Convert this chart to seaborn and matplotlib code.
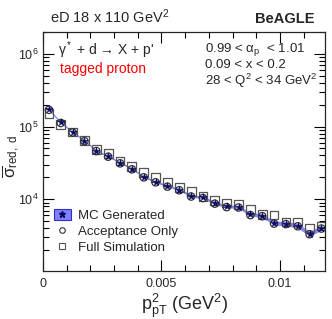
import numpy as np
import pandas as pd
import matplotlib
matplotlib.use("Agg")
import matplotlib.pyplot as plt
import seaborn as sns
from matplotlib.patches import Patch
from matplotlib.lines import Line2D
from matplotlib.ticker import MultipleLocator, FixedLocator, FixedFormatter, LogLocator, NullFormatter

# ---- data ----
pt2 = [0.00025, 0.00075, 0.00125, 0.00175, 0.00225, 0.00275, 0.00325, 0.00375,
       0.00425, 0.00475, 0.00525, 0.00575, 0.00625, 0.00675, 0.00725, 0.00775,
       0.00825, 0.00875, 0.00925, 0.00975, 0.01025, 0.01075, 0.01125, 0.01175]
mc_gen = [1.72e5, 1.14e5, 8.4e4, 6.4e4, 4.65e4, 3.9e4, 3.18e4, 2.63e4,
          2.04e4, 1.74e4, 1.52e4, 1.36e4, 1.11e4, 1.06e4, 8.9e3, 8.0e3,
          7.85e3, 6.2e3, 5.97e3, 4.72e3, 4.63e3, 4.34e3, 3.37e3, 4.03e3]
mc_err = [1.0e3, 0.9e3, 0.8e3, 0.75e3, 0.7e3, 0.65e3, 0.6e3, 0.55e3,
          0.5e3, 0.5e3, 0.48e3, 0.45e3, 0.42e3, 0.42e3, 0.4e3, 0.38e3,
          0.38e3, 0.35e3, 0.35e3, 0.32e3, 0.32e3, 0.31e3, 0.27e3, 0.3e3]
acc_only = [1.70e5, 1.12e5, 8.3e4, 6.3e4, 4.6e4, 3.85e4, 3.12e4, 2.58e4,
            2.0e4, 1.71e4, 1.49e4, 1.33e4, 1.09e4, 1.04e4, 8.7e3, 7.8e3,
            7.7e3, 6.05e3, 5.85e3, 4.62e3, 4.55e3, 4.25e3, 3.3e3, 3.95e3]
full_sim = [1.52e5, 1.08e5, 8.4e4, 6.4e4, 4.85e4, 4.27e4, 3.35e4, 2.8e4,
            2.34e4, 2.0e4, 1.73e4, 1.46e4, 1.29e4, 1.08e4, 9.5e3, 8.9e3,
            8.5e3, 7.25e3, 6.1e3, 6.07e3, 4.86e3, 4.86e3, 4.03e3, 4.29e3]

xticks = [0, 0.005, 0.01]
xticklabels = ["0", "0.005", "0.01"]

df = pd.DataFrame({"pt2": pt2, "mc": mc_gen, "err": mc_err,
                   "acc": acc_only, "full": full_sim})

# ---- style ----
sns.set_style("ticks")
plt.rcParams["font.family"] = ["Liberation Sans", "DejaVu Sans"]
plt.rcParams["mathtext.fontset"] = "custom"
plt.rcParams["mathtext.rm"] = "Liberation Sans"
plt.rcParams["mathtext.it"] = "Liberation Sans:italic"
plt.rcParams["mathtext.bf"] = "Liberation Sans:bold"

fig = plt.figure(figsize=(3.32, 3.19), dpi=100)
W, H = 332, 319
ax = fig.add_axes([43 / W, (H - 271) / H, (325 - 43) / W, (271 - 32) / H])

band_color = "#8080ff"
ax.fill_between(df["pt2"], df["mc"] - df["err"], df["mc"] + df["err"],
                color=band_color, alpha=0.9, lw=0, zorder=1)
sns.lineplot(data=df, x="pt2", y="mc", ax=ax, color=band_color, lw=0.8, zorder=1)
sns.scatterplot(data=df, x="pt2", y="full", ax=ax, marker="s", s=40,
                facecolor="none", edgecolor="#555555", linewidth=0.9, zorder=2)
sns.scatterplot(data=df, x="pt2", y="acc", ax=ax, marker="o", s=28,
                facecolor="none", edgecolor="#333333", linewidth=0.9, zorder=3)
sns.scatterplot(data=df, x="pt2", y="mc", ax=ax, marker="*", s=30,
                color="#0a0a60", edgecolor="#0a0a60", linewidth=0.3, zorder=4)

ax.set_yscale("log")
ax.set_xlim(0, 0.0119)
ax.set_ylim(1030, 2.0e6)

ax.xaxis.set_major_locator(FixedLocator(xticks))
ax.xaxis.set_major_formatter(FixedFormatter(xticklabels))
ax.xaxis.set_minor_locator(MultipleLocator(0.001))
ax.yaxis.set_major_locator(LogLocator(base=10, numticks=10))
ax.yaxis.set_minor_locator(LogLocator(base=10, subs=np.arange(2, 10), numticks=20))
ax.yaxis.set_minor_formatter(NullFormatter())
ax.tick_params(which="both", direction="in", top=True, right=True, labelsize=9,
               width=0.8, color="black")
ax.tick_params(which="major", length=8)
ax.tick_params(which="minor", length=4)
ax.tick_params(axis="x", pad=5)
ax.tick_params(axis="y", pad=3)
for s in ax.spines.values():
    s.set_linewidth(0.9)

ax.set_xlabel(r"$\mathregular{p^2_{pT}}$ (GeV$\mathregular{^2}$)", fontsize=13, labelpad=1)
ax.set_ylabel(r"$\mathregular{\overline{\sigma}_{red,\ d}}$", fontsize=12)
ax.yaxis.set_label_coords(-0.076, 0.48)

fig.text(50 / W, 1 - 17 / H, r"eD 18 x 110 GeV$\mathregular{^2}$", fontsize=10.5,
         va="center", ha="left")
fig.text(315 / W, 1 - 19 / H, "BeAGLE", fontsize=10.5, fontweight="bold",
         va="center", ha="right")

ax.text(0.053, 0.925, "γ$\\mathregular{^*}$ + d → X + p'",
        transform=ax.transAxes, fontsize=10, va="center", ha="left")
ax.text(0.06, 0.845, "tagged proton", color="red", transform=ax.transAxes,
        fontsize=10, va="center", ha="left")
ax.text(0.575, 0.928, r"0.99 < $\mathregular{\alpha_p}$  < 1.01", transform=ax.transAxes,
        fontsize=9.5, va="center", ha="left")
ax.text(0.575, 0.86, "0.09 < x < 0.2", transform=ax.transAxes,
        fontsize=9.5, va="center", ha="left")
ax.text(0.575, 0.795, r"28 < Q$\mathregular{^2}$ < 34 GeV$\mathregular{^2}$",
        transform=ax.transAxes, fontsize=9.5, va="center", ha="left")

h_mc = (Patch(facecolor=band_color, edgecolor="#3030c0", lw=0.8),
        Line2D([], [], marker="*", ls="none", color="#0a0a60", ms=4.5))
h_acc = Line2D([], [], marker="o", ls="none", mfc="none", mec="#333333", ms=4, mew=0.8)
h_full = Line2D([], [], marker="s", ls="none", mfc="none", mec="#555555", ms=5, mew=0.8)
ax.legend([h_mc, h_acc, h_full], ["MC Generated", "Acceptance Only", "Full Simulation"],
          loc="lower left", bbox_to_anchor=(0.02, 0.05), frameon=False, fontsize=9.5,
          handlelength=1.3, handleheight=0.9, handletextpad=0.5, labelspacing=0.2,
          borderaxespad=0)

fig.savefig("out.png", dpi=100)
